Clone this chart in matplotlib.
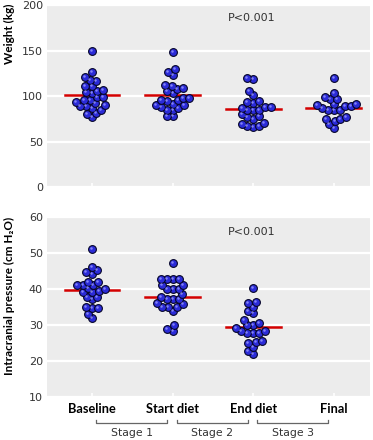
import matplotlib
matplotlib.use("Agg")
import matplotlib.pyplot as plt
import matplotlib.transforms as mtransforms
import numpy as np

groups = ["Baseline", "Start diet", "End diet", "Final"]
stages = ["Stage 1", "Stage 2", "Stage 3"]

# weight (kg) per group
weight_baseline = [149.7, 120.4, 116, 126, 118, 111, 111, 105.7, 104.6, 106.4, 102.8, 99, 99,
                   95.4, 95.4, 93.6, 92.8, 89.2, 90, 88.8, 87.3, 85.1, 81.8, 80.7, 77]
weight_start = [148.6, 126.6, 123, 129.2, 112, 107.2, 110.8, 108.3, 105.7, 102.8, 98.3, 98.3,
                95.4, 95.4, 94.7, 89.9, 91.7, 89.9, 88, 85, 85, 87, 77.8, 77.8]
weight_end = [120, 118.5, 101.6, 105.7, 93.6, 92.8, 94.3, 88, 88, 85, 84.4, 87.3, 84.4, 80,
              77, 75.2, 78.2, 67.2, 70.4, 66, 69.7, 67.2]
weight_final = [120, 103.5, 96.5, 99, 96.5, 90, 85, 87.3, 84.4, 91, 85, 88.8, 89.5, 91.5,
                75.2, 72.7, 74.5, 77, 69.7, 65.3]
weight_line = [100.9, 100.9, 85.9, 86.6]

# intracranial pressure (cm H2O) per group
icp_baseline = [51, 45.2, 44.1, 44.6, 46.2, 41.1, 39.1, 40.2, 41.1, 42, 39.5, 42, 39.9, 41.1,
                39.1, 37.9, 37.1, 37.9, 34.6, 34.6, 35.1, 33.1, 31.9]
icp_start = [47.1, 41.1, 42.9, 42.9, 42.9, 42.9, 41.1, 38.5, 40, 40, 40, 37.9, 37.1, 36, 37.1,
             37.1, 35.8, 35.1, 35.1, 34, 35.1, 30, 28.4, 28.9]
icp_end = [40.4, 36.5, 35.1, 36, 33.4, 34, 31.4, 30, 30.5, 29.1, 30, 28.4, 27.9, 27.9, 27.9,
           28.4, 25.6, 25, 25.4, 24, 22.9, 22]
icp_final = []
icp_line = [39.6, 37.7, 29.5]

BG = "#ececec"
DOT = "#2b2bd8"
TXT = "#333333"


def swarm(ax, i, vals, d=6.0):
    # simple beeswarm in pixel space, returns x in data units
    if len(vals) == 0:
        return np.array([]), np.array([])
    vals = np.sort(np.array(vals, dtype=float))
    pts = ax.transData.transform(np.column_stack([np.full(len(vals), i), vals]))
    x0 = pts[0, 0]
    ys = pts[:, 1]
    placed = []
    xs = []
    for y in ys:
        cands = [0.0]
        near = [(px, py) for px, py in placed if abs(py - y) < d]
        for px, py in near:
            w = np.sqrt(d * d - (py - y) ** 2)
            cands += [px - w, px + w]
        cands = sorted(cands, key=abs)
        for c in cands:
            if all((c - px) ** 2 + (y - py) ** 2 >= d * d - 1e-6 for px, py in near):
                break
        placed.append((c, y))
        xs.append(c)
    xy = np.column_stack([x0 + np.array(xs), ys])
    data = ax.transData.inverted().transform(xy)
    return data[:, 0], data[:, 1]


def panel(ax, data, lines, ylim, yticks, ptxt_y):
    ax.set_facecolor(BG)
    ax.set_xlim(-0.56, 3.45)
    ax.set_ylim(*ylim)
    ax.set_yticks(yticks)
    for s in ax.spines.values():
        s.set_visible(False)
    ax.grid(axis="y", color="white", lw=1.6)
    ax.set_axisbelow(True)
    ax.tick_params(axis="y", length=0, labelsize=8, labelcolor=TXT, pad=3)
    ax.set_xticks(range(4))
    ax.tick_params(axis="x", direction="in", color="white", length=3, width=1.2)
    hl = mtransforms.offset_copy(ax.transData, fig=ax.figure, x=-1.0, y=1.0, units="dots")
    for i, vals in enumerate(data):
        xs, ys = swarm(ax, i, vals)
        ax.plot(xs, ys, "o", ms=5.6, mfc=DOT, mec="#05052a", mew=0.8, zorder=3)
        ax.plot(xs, ys, "o", ms=1.8, mfc="#9a9aff", mec="none", alpha=0.8,
                transform=hl, zorder=4)
    for i, v in enumerate(lines):
        ax.plot([i - 0.34, i + 0.34], [v, v], color="#d40000", lw=1.8, zorder=2)
    ax.text(0.635, ptxt_y, "P<0.001", transform=ax.transAxes,
            ha="center", va="center", fontsize=8, color=TXT)


fig = plt.figure(figsize=(3.73, 4.40), dpi=100)
ax1 = fig.add_axes([47 / 373, 253 / 440, 323 / 373, 182 / 440])
ax2 = fig.add_axes([47 / 373, 43 / 440, 323 / 373, 180 / 440])

panel(ax1, [weight_baseline, weight_start, weight_end, weight_final], weight_line,
      (0, 200), [0, 50, 100, 150, 200], 0.93)
ax1.set_xticklabels([])
ax1.set_ylabel("Weight (kg)", family=["Lato", "DejaVu Sans"], fontweight="bold",
               fontsize=8.5, color="black")
ax1.yaxis.set_label_coords(-0.10, 0.84)

panel(ax2, [icp_baseline, icp_start, icp_end, icp_final], icp_line,
      (10, 60), [10, 20, 30, 40, 50, 60], 0.917)
ax2.set_xticklabels(groups, family=["Lato", "DejaVu Sans"], fontweight="bold", fontsize=9.2)
ax2.tick_params(axis="x", pad=4, labelcolor="black")
ax2.set_ylabel("Intracranial pressure (cm H\u2082O)", family=["Lato", "DejaVu Sans"],
               fontweight="bold", fontsize=8.5, color="black")
ax2.yaxis.set_label_coords(-0.10, 0.56)

# stage brackets under the category labels
tr = mtransforms.blended_transform_factory(ax2.transData, ax2.transAxes)
for k, name in enumerate(stages):
    x_a, x_b = k + 0.05, k + 0.93
    ax2.plot([x_a, x_a, x_b, x_b], [-0.125, -0.145, -0.145, -0.125], color="#666666",
             lw=0.9, transform=tr, clip_on=False)
    ax2.text(k + 0.49, -0.2, name, transform=tr, ha="center", va="center",
             fontsize=7.8, color=TXT)

fig.savefig("out.png", dpi=100)
